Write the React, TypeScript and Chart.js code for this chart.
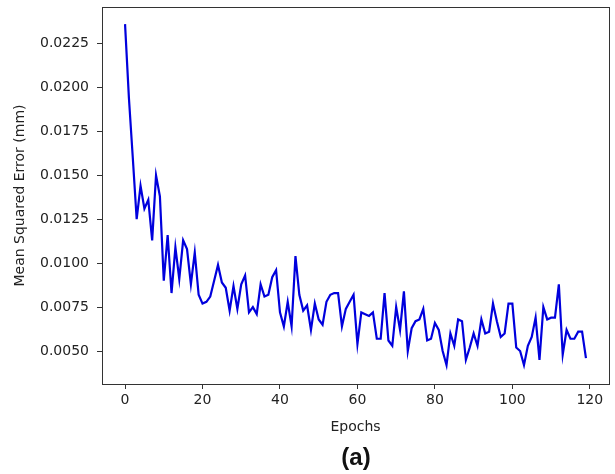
import React, { useEffect, useRef } from "react";
import { Chart, registerables } from "chart.js";

Chart.register(...registerables);

const mse: number[] = [
  0.0236, 0.0194, 0.0160, 0.0125, 0.0144, 0.0131, 0.0136, 0.0113, 0.0150, 0.0138,
  0.0090, 0.0116, 0.0083, 0.0109, 0.0091, 0.0113, 0.0108, 0.0088, 0.0106, 0.0082,
  0.0077, 0.0078, 0.0081, 0.0090, 0.0099, 0.0089, 0.0086, 0.0073, 0.0087, 0.0074,
  0.0088, 0.0093, 0.0072, 0.0075, 0.0071, 0.0088, 0.0081, 0.0082, 0.0092, 0.0096,
  0.0072, 0.0064, 0.0078, 0.0064, 0.0104, 0.0082, 0.0073, 0.0076, 0.0062, 0.0077,
  0.0068, 0.0065, 0.0078, 0.0082, 0.0083, 0.0083, 0.0064, 0.0074, 0.0078, 0.0082,
  0.0054, 0.0072, 0.0071, 0.0070, 0.0072, 0.0057, 0.0057, 0.0083, 0.0056, 0.0053,
  0.0075, 0.0062, 0.0084, 0.0050, 0.0063, 0.0067, 0.0068, 0.0074, 0.0056, 0.0057,
  0.0066, 0.0062, 0.0050, 0.0042, 0.0060, 0.0053, 0.0068, 0.0067, 0.0045, 0.0052,
  0.0060, 0.0053, 0.0068, 0.0060, 0.0061, 0.0077, 0.0067, 0.0058, 0.0060, 0.0077,
  0.0077, 0.0052, 0.0050, 0.0042, 0.0053, 0.0058, 0.0069, 0.0045, 0.0075, 0.0068,
  0.0069, 0.0069, 0.0088, 0.0048, 0.0062, 0.0057, 0.0057, 0.0061, 0.0061, 0.0046,
];

const xTicks: number[] = [0, 20, 40, 60, 80, 100, 120];
const yTicks: number[] = [0.005, 0.0075, 0.01, 0.0125, 0.015, 0.0175, 0.02, 0.0225];

const xLabel = "Epochs";
const yLabel = "Mean Squared Error (mm)";
const caption = "(a)";

const FONT = "'DejaVu Sans', sans-serif";

const boxPlugin = {
  id: "box",
  afterDraw(chart: any) {
    const { ctx, chartArea } = chart;
    ctx.save();
    ctx.strokeStyle = "#333";
    ctx.lineWidth = 1;
    ctx.strokeRect(
      Math.round(chartArea.left) + 0.5,
      Math.round(chartArea.top) + 0.5,
      Math.round(chartArea.right - chartArea.left),
      Math.round(chartArea.bottom - chartArea.top)
    );
    ctx.restore();
  },
};

export default function App() {
  const ref = useRef<HTMLCanvasElement>(null);

  useEffect(() => {
    document.body.style.margin = "0";
    const dataPts = mse.map((v, i) => ({ x: i, y: v }));
    const chart = new Chart(ref.current!, {
      type: "line",
      data: {
        datasets: [
          {
            data: dataPts,
            borderColor: "#0000dd",
            borderWidth: 2.2,
            pointRadius: 0,
            tension: 0,
            fill: false,
          },
        ],
      },
      options: {
        animation: false,
        responsive: false,
        maintainAspectRatio: false,
        layout: { padding: { top: 7, right: 6, left: 0, bottom: 30 } },
        plugins: {
          legend: { display: false },
          tooltip: { enabled: false },
          title: { display: false },
        },
        scales: {
          x: {
            type: "linear",
            min: -5.95,
            max: 124.95,
            afterBuildTicks: (s: any) => {
              s.ticks = xTicks.map((v) => ({ value: v }));
            },
            afterFit: (s: any) => {
              s.height = 60;
              s.paddingLeft = 0;
              s.paddingRight = 0;
            },
            grid: {
              display: true,
              drawOnChartArea: false,
              drawTicks: true,
              tickLength: 5,
              color: "#333",
            },
            border: { display: true, color: "#333" },
            ticks: {
              color: "#222",
              font: { family: FONT, size: 14 },
              padding: 3,
              maxRotation: 0,
              autoSkip: false,
              callback: (v: any) => String(v),
            },
            title: {
              display: true,
              text: xLabel,
              color: "#222",
              font: { family: FONT, size: 14 },
              padding: { top: 0, bottom: 8 },
            },
          },
          y: {
            type: "linear",
            min: 0.003125,
            max: 0.024575,
            afterBuildTicks: (s: any) => {
              s.ticks = yTicks.map((v) => ({ value: v }));
            },
            afterFit: (s: any) => {
              s.width = 102;
              s.paddingTop = 0;
              s.paddingBottom = 0;
            },
            grid: {
              display: true,
              drawOnChartArea: false,
              drawTicks: true,
              tickLength: 5,
              color: "#333",
            },
            border: { display: true, color: "#333" },
            ticks: {
              color: "#222",
              font: { family: FONT, size: 14 },
              padding: 8,
              autoSkip: false,
              callback: (v: any) => Number(v).toFixed(4),
            },
            title: {
              display: true,
              text: yLabel,
              color: "#222",
              font: { family: FONT, size: 14 },
              padding: { top: 12, bottom: 0 },
            },
          },
        },
      },
      plugins: [boxPlugin],
    });
    return () => chart.destroy();
  }, []);

  return (
    <div style={{ position: "relative", width: 615, height: 474, background: "#fff" }}>
      <canvas ref={ref} width={615} height={474} style={{ display: "block" }} />
      <div
        style={{
          position: "absolute",
          left: 356,
          top: 443,
          transform: "translateX(-50%)",
          fontFamily: "'Liberation Sans', Arial, sans-serif",
          fontWeight: "bold",
          fontSize: 24,
          lineHeight: "28px",
          color: "#111",
        }}
      >
        {caption}
      </div>
    </div>
  );
}
